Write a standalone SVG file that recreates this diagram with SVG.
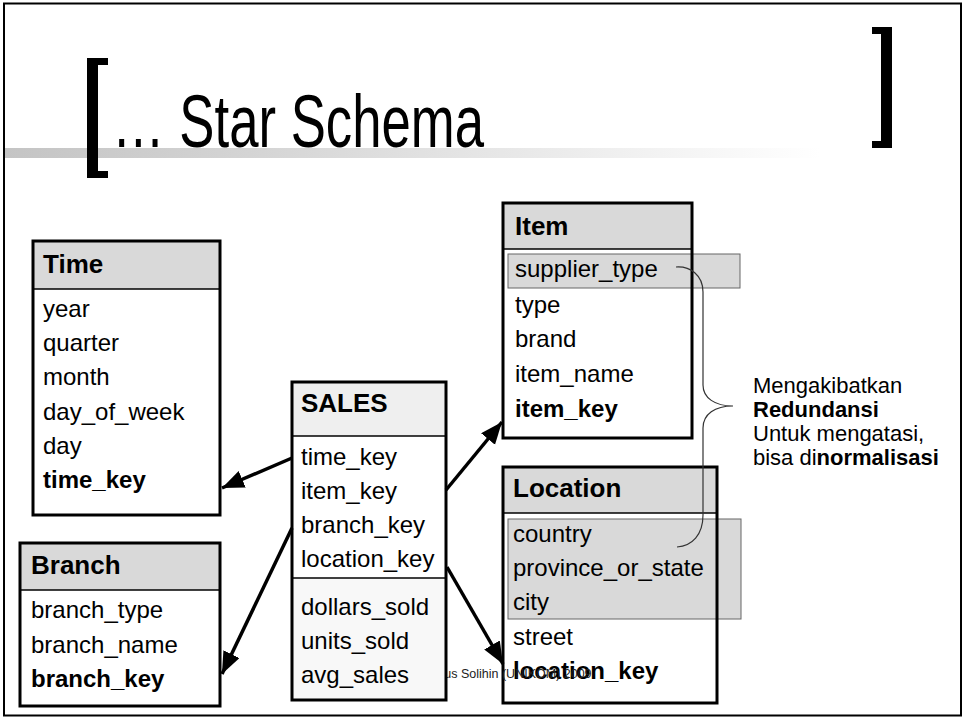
<svg xmlns="http://www.w3.org/2000/svg" width="965" height="719" viewBox="0 0 965 719">
<style>
.box{fill:#ffffff;stroke:none}
.frame{fill:none;stroke:#000;stroke-width:3}
.hdr{fill:#d9d9d9}
.hdr2{fill:#efefef}
.sep{stroke:#000;stroke-width:1.5}
.hl{fill:#d9d9d9;stroke:#666;stroke-width:1}
.t{font-family:"Liberation Sans",Arial,sans-serif;font-size:24px;fill:#000}
.h{font-family:"Liberation Sans",Arial,sans-serif;font-size:26px;font-weight:bold;fill:#000}
.b{font-weight:bold}
.note{font-family:"Liberation Sans",Arial,sans-serif;font-size:22px;fill:#000}
.conn{stroke:#000;stroke-width:3.5;fill:none;marker-end:url(#ah)}
</style>
<defs>
<marker id="ah" markerUnits="userSpaceOnUse" markerWidth="24" markerHeight="20" refX="22" refY="9" orient="auto">
<path d="M0,0 L22,9 L0,18 z" fill="#000"/>
</marker>
<linearGradient id="bar" x1="0" y1="0" x2="1" y2="0">
<stop offset="0" stop-color="#c4c4c4"/>
<stop offset="0.3" stop-color="#d4d4d4"/>
<stop offset="1" stop-color="#ffffff"/>
</linearGradient>
</defs>
<rect x="0" y="0" width="965" height="719" fill="#fff"/>
<rect x="4" y="3.5" width="957" height="712" fill="none" stroke="#000" stroke-width="2"/>
<g id="title">
<rect x="5" y="148" width="815" height="10" fill="url(#bar)"/>
<rect x="87" y="58" width="11" height="120" fill="#000"/>
<rect x="87" y="58" width="21" height="7" fill="#000"/>
<rect x="87" y="171" width="21" height="7" fill="#000"/>
<rect x="881" y="27" width="11" height="121" fill="#000"/>
<rect x="872" y="27" width="20" height="7" fill="#000"/>
<rect x="872" y="141" width="20" height="7" fill="#000"/>
<text x="112" y="147" font-family="Liberation Sans,Arial,sans-serif" font-size="74" textLength="372" lengthAdjust="spacingAndGlyphs">… Star Schema</text>
</g>
<g id="location">
<rect class="box" x="503" y="467" width="214" height="236"/>
<rect class="hdr" x="503" y="467" width="214" height="46"/>
<line class="sep" x1="503" y1="513" x2="717" y2="513"/>
<rect class="hl" x="508" y="519" width="233" height="100"/>
<text class="h" x="513" y="497">Location</text>
<text class="t" x="513" y="542">country</text>
<text class="t" x="513" y="576">province_or_state</text>
<text class="t" x="513" y="610">city</text>
<text class="t" x="513" y="645">street</text>
<text class="t b" x="513" y="679">location_key</text>
<rect class="frame" x="503" y="467" width="214" height="236"/>
</g>
<g id="item">
<rect class="box" x="503" y="203" width="189" height="235"/>
<rect class="hdr" x="503" y="203" width="189" height="46"/>
<line class="sep" x1="503" y1="249" x2="692" y2="249"/>
<rect class="hl" x="508" y="254" width="232" height="34"/>
<text class="h" x="515" y="235">Item</text>
<text class="t" x="515" y="277">supplier_type</text>
<text class="t" x="515" y="313">type</text>
<text class="t" x="515" y="347">brand</text>
<text class="t" x="515" y="382">item_name</text>
<text class="t b" x="515" y="417">item_key</text>
<rect class="frame" x="503" y="203" width="189" height="235"/>
</g>
<g id="time">
<rect class="box" x="33" y="241" width="187" height="274"/>
<rect class="hdr" x="33" y="241" width="187" height="48"/>
<line class="sep" x1="33" y1="289" x2="220" y2="289"/>
<text class="h" x="43" y="273">Time</text>
<text class="t" x="43" y="317">year</text>
<text class="t" x="43" y="351">quarter</text>
<text class="t" x="43" y="385">month</text>
<text class="t" x="43" y="420">day_of_week</text>
<text class="t" x="43" y="454">day</text>
<text class="t b" x="43" y="488">time_key</text>
<rect class="frame" x="33" y="241" width="187" height="274"/>
</g>
<g id="branch">
<rect class="box" x="20" y="543" width="200" height="163"/>
<rect class="hdr" x="20" y="543" width="200" height="47"/>
<line class="sep" x1="20" y1="590" x2="220" y2="590"/>
<text class="h" x="31" y="574">Branch</text>
<text class="t" x="31" y="618">branch_type</text>
<text class="t" x="31" y="653">branch_name</text>
<text class="t b" x="31" y="687">branch_key</text>
<rect class="frame" x="20" y="543" width="200" height="163"/>
</g>
<text id="footer" x="429" y="678" font-family="Liberation Sans,Arial,sans-serif" font-size="12.5" fill="#222">Agus Solihin (UNIKOM) 2009</text>
<g id="sales">
<rect class="box" x="292" y="382" width="154" height="318"/>
<rect class="hdr2" x="292" y="382" width="154" height="54"/>
<rect fill="#f8f8f8" x="292" y="578" width="154" height="122"/>
<line class="sep" x1="292" y1="436" x2="446" y2="436"/>
<line class="sep" x1="292" y1="578" x2="446" y2="578"/>
<text class="h" x="301" y="412">SALES</text>
<text class="t" x="301" y="465">time_key</text>
<text class="t" x="301" y="499">item_key</text>
<text class="t" x="301" y="533">branch_key</text>
<text class="t" x="301" y="567">location_key</text>
<text class="t" x="301" y="615">dollars_sold</text>
<text class="t" x="301" y="649">units_sold</text>
<text class="t" x="301" y="683">avg_sales</text>
<rect class="frame" x="292" y="382" width="154" height="318"/>
</g>
<g id="connectors">
<line class="conn" x1="292" y1="458" x2="222" y2="488"/>
<line class="conn" x1="292" y1="528" x2="222" y2="674"/>
<line class="conn" x1="446" y1="490" x2="502" y2="422"/>
<line class="conn" x1="447" y1="567" x2="503" y2="664"/>
<path d="M676,267 C690,266 703,275 703,292 L703,385 C703,398 715,406 733,406 C715,406 703,414 703,428 L703,515 C703,535 692,546 677,547" fill="none" stroke="#333" stroke-width="1.2"/>
</g>
<g id="note">
<text class="note" x="753" y="393">Mengakibatkan</text>
<text class="note b" x="753" y="417">Redundansi</text>
<text class="note" x="753" y="441">Untuk mengatasi,</text>
<text class="note" x="753" y="465">bisa di<tspan class="b">normalisasi</tspan></text>
</g>
</svg>
